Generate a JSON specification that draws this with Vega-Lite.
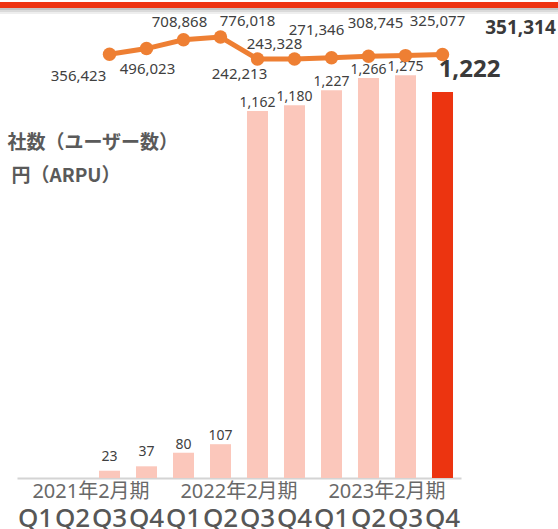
{
  "$schema": "https://vega.github.io/schema/vega-lite/v6.json",
  "width": 558,
  "height": 478,
  "autosize": {"type": "none"},
  "padding": {"top": 0, "left": 0, "right": 0, "bottom": 51},
  "background": "white",
  "config": {
    "view": {"stroke": null},
    "text": {"font": "Noto Sans, Noto Sans CJK JP", "fill": "#404040", "baseline": "alphabetic", "align": "center"}
  },
  "data": {
    "values": [
      {"q": "2021-Q1", "arpu": null, "users": null},
      {"q": "2021-Q2", "arpu": null, "users": null},
      {"q": "2021-Q3", "arpu": 23, "users": 356423},
      {"q": "2021-Q4", "arpu": 37, "users": 496023},
      {"q": "2022-Q1", "arpu": 80, "users": 708868},
      {"q": "2022-Q2", "arpu": 107, "users": 776018},
      {"q": "2022-Q3", "arpu": 1162, "users": 242213},
      {"q": "2022-Q4", "arpu": 1180, "users": 243328},
      {"q": "2023-Q1", "arpu": 1227, "users": 271346},
      {"q": "2023-Q2", "arpu": 1266, "users": 308745},
      {"q": "2023-Q3", "arpu": 1275, "users": 325077},
      {"q": "2023-Q4", "arpu": 1222, "users": 351314}
    ]
  },
  "layer": [
    {
      "layer": [
        {
          "mark": {"type": "bar"},
          "encoding": {
            "x": {
              "field": "q", "type": "nominal",
              "scale": {
                "domain": ["2021-Q1","2021-Q2","2021-Q3","2021-Q4","2022-Q1","2022-Q2","2022-Q3","2022-Q4","2023-Q1","2023-Q2","2023-Q3","2023-Q4"],
                "range": [17, 461],
                "paddingInner": 0.432, "paddingOuter": 0.216
              },
              "axis": {
                "title": null, "domain": true, "domainColor": "#d4d4d4", "domainWidth": 2,
                "ticks": false, "grid": false,
                "labelExpr": "substring(datum.value, 5)", "labelAngle": 0,
                "labelFont": "Noto Sans", "labelFontSize": 26, "labelFontWeight": 500, "labelColor": "#575757",
                "labelBaseline": "alphabetic", "labelPadding": 48,
                "labelOverlap": false, "labelBound": false, "labelFlush": false
              }
            },
            "y": {"field": "arpu", "type": "quantitative", "scale": {"domain": [0, 1513], "nice": false, "zero": false}, "axis": null},
            "color": {"condition": {"test": "datum.q === '2023-Q4'", "value": "#EC3410"}, "value": "#FBC7BB"}
          }
        },
        {
          "transform": [{"filter": "datum.arpu >= 50 && datum.q !== '2023-Q4'"}],
          "mark": {"type": "text", "dy": -4, "fontSize": 14},
          "encoding": {
            "x": {"field": "q", "type": "nominal"},
            "y": {"field": "arpu", "type": "quantitative"},
            "text": {"field": "arpu", "format": ","}
          }
        },
        {
          "transform": [{"filter": "datum.arpu < 50"}],
          "mark": {"type": "text", "dy": -10, "fontSize": 14},
          "encoding": {
            "x": {"field": "q", "type": "nominal"},
            "y": {"field": "arpu", "type": "quantitative"},
            "text": {"field": "arpu", "format": ","}
          }
        },
        {
          "transform": [{"filter": "datum.q === '2023-Q4'"}],
          "mark": {"type": "text", "dx": 27, "dy": -15, "fontSize": 24, "fontWeight": "bold", "fill": "#3a3a3a"},
          "encoding": {
            "x": {"field": "q", "type": "nominal"},
            "y": {"field": "arpu", "type": "quantitative"},
            "text": {"field": "arpu", "format": ","}
          }
        },
        {
          "data": {"values": [{"q": "2021-Q2", "label": "2021年2月期"}, {"q": "2022-Q2", "label": "2022年2月期"}, {"q": "2023-Q2", "label": "2023年2月期"}]},
          "mark": {"type": "text", "dx": 18.5, "baseline": "middle", "fontSize": 20, "fill": "#696969"},
          "encoding": {
            "x": {"field": "q", "type": "nominal"},
            "y": {"datum": -44},
            "text": {"field": "label"}
          }
        },
        {
          "data": {"values": [{"label": "社数（ユーザー数）"}]},
          "mark": {"type": "text", "align": "left", "baseline": "middle", "dx": -28, "fontSize": 19, "fontWeight": "bold", "fill": "#5a5a5a", "font": "Noto Sans CJK JP"},
          "encoding": {
            "x": {"datum": "2021-Q1"},
            "y": {"datum": 1060},
            "text": {"field": "label"}
          }
        },
        {
          "data": {"values": [{"label": "円（ARPU）"}]},
          "mark": {"type": "text", "align": "left", "baseline": "middle", "dx": -24, "fontSize": 19, "fontWeight": "bold", "fill": "#5a5a5a", "font": "Noto Sans CJK JP"},
          "encoding": {
            "x": {"datum": "2021-Q1"},
            "y": {"datum": 956},
            "text": {"field": "label"}
          }
        },
        {
          "data": {"values": [{"k": "stripe"}]},
          "mark": {"type": "rule", "stroke": "#c4c4c4", "strokeWidth": 2},
          "encoding": {"y": {"datum": 1484.5}}
        },
        {
          "data": {"values": [{"k": "stripe"}]},
          "mark": {"type": "rule", "stroke": "#dadada", "strokeWidth": 2},
          "encoding": {"y": {"datum": 1478.2}}
        },
        {
          "data": {"values": [{"k": "stripe"}]},
          "mark": {"type": "rule", "stroke": "#eeeeee", "strokeWidth": 2},
          "encoding": {"y": {"datum": 1471.9}}
        },
        {
          "data": {"values": [{"k": "stripe"}]},
          "mark": {"type": "rule", "stroke": "#EE3311", "strokeWidth": 6},
          "encoding": {"y": {"datum": 1497.2}}
        }
      ]
    },
    {
      "layer": [
        {
          "mark": {"type": "line", "stroke": "#EE7F33", "strokeWidth": 5},
          "encoding": {
            "x": {"field": "q", "type": "nominal"},
            "y": {"field": "users", "type": "quantitative", "scale": {"domain": [-9930000, 1675000], "nice": false, "zero": false}, "axis": null}
          }
        },
        {
          "mark": {"type": "circle", "size": 180, "color": "#EE7F33", "opacity": 1},
          "encoding": {
            "x": {"field": "q", "type": "nominal"},
            "y": {"field": "users", "type": "quantitative"}
          }
        },
        {"transform": [{"filter": "datum.q === '2021-Q3'"}], "mark": {"type": "text", "dx": -31, "dy": 27, "fontSize": 15},
         "encoding": {"x": {"field": "q", "type": "nominal"}, "y": {"field": "users", "type": "quantitative"}, "text": {"field": "users", "format": ","}}},
        {"transform": [{"filter": "datum.q === '2021-Q4'"}], "mark": {"type": "text", "dx": 1, "dy": 25, "fontSize": 15},
         "encoding": {"x": {"field": "q", "type": "nominal"}, "y": {"field": "users", "type": "quantitative"}, "text": {"field": "users", "format": ","}}},
        {"transform": [{"filter": "datum.q === '2022-Q1'"}], "mark": {"type": "text", "dx": -4, "dy": -13, "fontSize": 15},
         "encoding": {"x": {"field": "q", "type": "nominal"}, "y": {"field": "users", "type": "quantitative"}, "text": {"field": "users", "format": ","}}},
        {"transform": [{"filter": "datum.q === '2022-Q2'"}], "mark": {"type": "text", "dx": 27, "dy": -11, "fontSize": 15},
         "encoding": {"x": {"field": "q", "type": "nominal"}, "y": {"field": "users", "type": "quantitative"}, "text": {"field": "users", "format": ","}}},
        {"transform": [{"filter": "datum.q === '2022-Q3'"}], "mark": {"type": "text", "dx": -18, "dy": 20, "fontSize": 15},
         "encoding": {"x": {"field": "q", "type": "nominal"}, "y": {"field": "users", "type": "quantitative"}, "text": {"field": "users", "format": ","}}},
        {"transform": [{"filter": "datum.q === '2022-Q4'"}], "mark": {"type": "text", "dx": -20, "dy": -10, "fontSize": 15},
         "encoding": {"x": {"field": "q", "type": "nominal"}, "y": {"field": "users", "type": "quantitative"}, "text": {"field": "users", "format": ","}}},
        {"transform": [{"filter": "datum.q === '2023-Q1'"}], "mark": {"type": "text", "dx": -15, "dy": -23, "fontSize": 15},
         "encoding": {"x": {"field": "q", "type": "nominal"}, "y": {"field": "users", "type": "quantitative"}, "text": {"field": "users", "format": ","}}},
        {"transform": [{"filter": "datum.q === '2023-Q2'"}], "mark": {"type": "text", "dx": 7, "dy": -28, "fontSize": 15},
         "encoding": {"x": {"field": "q", "type": "nominal"}, "y": {"field": "users", "type": "quantitative"}, "text": {"field": "users", "format": ","}}},
        {"transform": [{"filter": "datum.q === '2023-Q3'"}], "mark": {"type": "text", "dx": 32, "dy": -30, "fontSize": 15},
         "encoding": {"x": {"field": "q", "type": "nominal"}, "y": {"field": "users", "type": "quantitative"}, "text": {"field": "users", "format": ","}}},
        {"transform": [{"filter": "datum.q === '2023-Q4'"}], "mark": {"type": "text", "dx": 78, "dy": -21, "fontSize": 19, "fontWeight": "bold", "fill": "#3a3a3a"},
         "encoding": {"x": {"field": "q", "type": "nominal"}, "y": {"field": "users", "type": "quantitative"}, "text": {"field": "users", "format": ","}}}
      ]
    }
  ],
  "resolve": {"scale": {"y": "independent"}}
}
